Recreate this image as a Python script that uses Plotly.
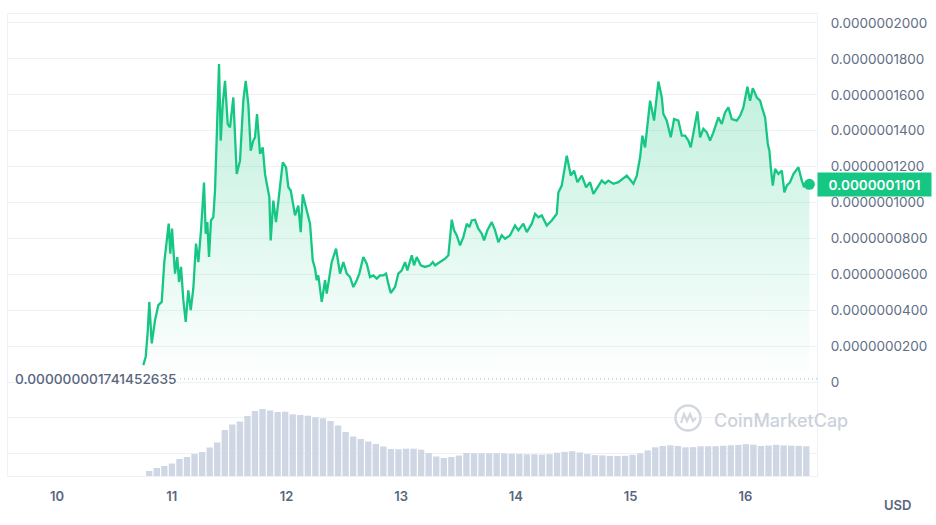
import numpy as np
import plotly.graph_objects as go

# ---- data ----
# hours since day "10" 00:00
price_hours = [
    18.06, 18.56, 18.98, 19.31, 19.82, 20.51, 21.20, 21.91, 22.45, 22.95,
    23.37, 23.71, 24.06, 24.69, 25.17, 25.53, 25.95, 26.43, 26.93, 27.47,
    27.98, 28.52, 29.08, 29.57, 30.13, 30.76, 31.11, 31.45, 31.80, 32.22,
    32.70, 33.06, 33.42, 33.90, 34.25, 34.67, 35.15, 35.72, 36.20, 36.89,
    37.60, 38.29, 38.98, 39.48, 40.03, 40.53, 41.07, 41.43, 41.85, 42.48,
    43.04, 43.52, 43.88, 44.42, 44.71, 45.26, 45.82, 46.51, 47.23, 47.92,
    48.40, 48.90, 49.80, 50.49, 50.99, 51.41, 52.25, 52.94, 53.50, 53.98,
    54.34, 54.67, 55.39, 56.08, 56.43, 57.12, 57.48, 58.38, 59.21, 59.91,
    60.62, 61.31, 62.00, 62.71, 63.25, 64.09, 64.80, 65.49, 66.18, 66.89,
    67.58, 68.27, 68.84, 69.32, 69.82, 70.72, 71.41, 72.13, 72.82, 73.30,
    74.22, 74.70, 75.26, 76.10, 77.00, 78.05, 78.61, 79.09, 80.14, 81.19,
    81.88, 82.59, 83.07, 83.63, 84.32, 85.01, 85.73, 86.27, 86.77, 87.46,
    88.15, 88.86, 89.35, 90.04, 90.96, 91.65, 92.34, 93.05, 93.74, 94.79,
    95.83, 96.52, 97.57, 98.28, 99.33, 100.02, 100.71, 101.42, 102.47, 103.51,
    104.56, 104.89, 105.60, 106.65, 107.49, 108.18, 108.87, 109.79, 110.69, 111.52,
    112.22, 113.05, 113.97, 114.66, 115.35, 116.40, 117.45, 119.20, 120.59, 121.30,
    121.99, 122.47, 123.03, 124.08, 124.91, 125.82, 126.53, 126.86, 127.57, 128.41,
    129.10, 130.00, 130.71, 131.40, 132.09, 132.59, 133.14, 133.98, 134.54, 135.23,
    135.94, 136.63, 137.32, 138.37, 139.08, 139.77, 140.46, 141.17, 142.22, 142.91,
    143.60, 144.44, 145.00, 145.57, 146.41, 147.10, 147.58, 148.14, 148.71, 149.04,
    149.33, 149.75, 150.23, 150.93, 151.64, 152.18, 152.68, 153.37, 154.06, 155.11,
    155.82, 156.30, 156.87, 157.41,
]
# price in units of 1e-9 USD
price_nano = [
    9.4, 14.1, 27.9, 44.6, 21.5, 34.4, 42.8, 44.6, 66.8, 77.1,
    88.2, 71.5, 85.4, 60.4, 69.6, 55.7, 64.1, 45.6, 33.5, 51.1,
    40.0, 52.1, 77.1, 66.8, 84.5, 111.1, 82.6, 89.1, 69.6, 90.0,
    91.8, 106.7, 143.7, 177.1, 134.5, 154.8, 167.8, 143.7, 141.8, 158.5,
    115.9, 123.3, 156.7, 167.8, 154.8, 128.9, 134.5, 136.3, 149.3, 127.1,
    130.7, 115.9, 110.6, 103.0, 78.9, 101.1, 89.1, 106.7, 122.4, 119.6,
    108.5, 106.7, 92.8, 98.3, 83.5, 104.5, 94.6, 88.2, 67.8, 63.2,
    56.7, 59.4, 44.6, 56.7, 49.3, 60.4, 66.8, 74.3, 60.4, 66.8,
    60.4, 58.5, 52.9, 56.7, 60.4, 69.6, 65.9, 58.5, 59.4, 57.6,
    59.4, 59.4, 60.4, 54.8, 49.6, 52.9, 60.4, 62.2, 66.8, 62.2,
    70.6, 65.0, 69.6, 65.0, 64.1, 65.0, 66.8, 65.0, 66.8, 68.7,
    70.6, 90.4, 84.5, 81.7, 76.1, 80.7, 88.2, 86.3, 90.0, 90.4,
    85.4, 82.6, 78.9, 84.5, 89.1, 84.5, 77.9, 81.7, 79.8, 81.7,
    87.2, 84.5, 88.2, 83.5, 88.2, 93.7, 91.8, 92.8, 87.2, 90.0,
    93.7, 105.6, 109.4, 126.1, 115.0, 117.8, 111.3, 115.0, 108.5, 111.3,
    104.8, 108.5, 112.2, 110.6, 112.2, 110.4, 111.3, 115.0, 110.4, 115.0,
    125.2, 137.2, 130.7, 156.7, 145.6, 167.4, 158.5, 149.3, 145.6, 136.3,
    146.5, 145.6, 137.2, 137.2, 134.5, 130.7, 138.2, 150.7, 136.3, 141.0,
    139.1, 134.5, 139.1, 147.4, 143.7, 150.2, 153.0, 146.5, 145.6, 148.3,
    153.0, 164.5, 156.7, 163.7, 158.5, 156.7, 152.1, 147.4, 132.6, 128.9,
    119.6, 109.4, 118.7, 115.9, 117.8, 105.7, 109.4, 111.3, 115.9, 119.6,
    112.2, 108.5, 111.3, 110.1,
]
# 24h volume (relative units), bars every 1.58 h starting at hour 19.3
volume = [
    5, 8, 10, 12.5, 17, 19, 22, 24, 28.5, 33.5,
    46, 51.5, 54.5, 60, 65, 67, 65.5, 64, 64.3, 61.7,
    61, 60.3, 58.7, 57.7, 55, 50.5, 44, 39.5, 37, 34.5,
    32, 29.5, 27, 26.7, 27.3, 27.3, 26.3, 23, 19.5, 18,
    19, 20.5, 23, 22.8, 22.7, 22.7, 22.7, 22.6, 22.3, 22,
    21.7, 21.7, 21.4, 21.8, 23.2, 24.1, 24.8, 23.5, 22, 20.9,
    20.6, 20.1, 20, 20.2, 21.2, 22.6, 25.6, 28.7, 30, 30.7,
    30, 28.7, 28.8, 29.7, 29.7, 29.8, 30.3, 30.7, 31, 31.8,
    31.3, 30, 30.5, 31.2, 30.6, 30.3, 30.1, 29.7,
]
vol_start_hour = 19.3
vol_step_hour = 1.58

day_labels = ["10", "11", "12", "13", "14", "15", "16"]
price_ticks = [0, 2e-8, 4e-8, 6e-8, 8e-8, 1e-7, 1.2e-7, 1.4e-7, 1.6e-7, 1.8e-7, 2e-7]
low_value = 1.741452635e-9
low_label = "0.000000001741452635"
last_label = "0.0000001101"

# ---- build ----
price = [p * 1e-9 for p in price_nano]
vol_x = vol_start_hour + vol_step_hour * np.arange(len(volume))

GREEN = "#16c784"
GRID = "#eff2f5"
TXT = "#616e85"
FONT = "Inter"

fig = go.Figure()
fig.add_trace(go.Bar(
    x=vol_x, y=volume, yaxis="y2",
    marker=dict(color="#cfd6e4", line=dict(width=0)),
    width=vol_step_hour * 0.84, hoverinfo="skip", showlegend=False,
))
fig.add_trace(go.Scatter(
    x=price_hours, y=price, mode="lines",
    line=dict(color=GREEN, width=2.3),
    fill="tozeroy",
    fillgradient=dict(type="vertical",
                      colorscale=[[0, "rgba(22,199,132,0.0)"], [1, "rgba(22,199,132,0.28)"]],
                      start=0, stop=1.75e-7),
    showlegend=False,
))
fig.add_trace(go.Scatter(
    x=[price_hours[-1]], y=[price[-1]], mode="markers",
    marker=dict(size=11, color=GREEN), showlegend=False,
))

tickvals = [-4e-8, -2e-8] + price_ticks
ticktext = ["", ""] + ["0" if v == 0 else f"{v:.10f}" for v in price_ticks]

fig.update_layout(
    width=936, height=525,
    margin=dict(l=8, r=119, t=14, b=49),
    paper_bgcolor="white", plot_bgcolor="white",
    font=dict(family=FONT, color=TXT),
    bargap=0.15,
    xaxis=dict(
        range=[-10.25, 159.0],
        tickvals=[24 * i for i in range(len(day_labels))],
        ticktext=day_labels,
        showgrid=False, zeroline=False,
        showline=True, linecolor=GRID, linewidth=1, mirror=True,
        ticks="", ticklabelstandoff=8,
        tickfont=dict(family=FONT, size=13, color="#58667e", weight=600),
    ),
    yaxis=dict(
        side="right",
        range=[-5.237e-8, 2.0501e-7],
        tickvals=tickvals, ticktext=ticktext,
        gridcolor=GRID, gridwidth=1, zeroline=False,
        showline=True, linecolor=GRID, linewidth=1, mirror=True,
        ticks="", ticklabelstandoff=10,
        tickfont=dict(family=FONT, size=13.5, color=TXT),
    ),
    yaxis2=dict(overlaying="y", range=[0, 462], visible=False),
)

# dotted low line
fig.add_shape(type="line", xref="paper", yref="y",
              x0=(180 - 8) / 809, x1=1, y0=low_value, y1=low_value,
              line=dict(color="#a6b0c3", width=1, dash="1px,3px"))

annotations = [
    dict(xref="paper", yref="y", x=0, y=low_value, xshift=5,
         xanchor="left", yanchor="middle", showarrow=False,
         text=low_label, font=dict(family=FONT, size=13.7, color="#58667e", weight=500)),
    dict(xref="paper", yref="y", x=1, y=price[-1], xanchor="left", yanchor="middle",
         showarrow=False, text=last_label, bgcolor=GREEN, width=105, height=15,
         borderpad=4, align="center",
         font=dict(family=FONT, size=13.5, color="white", weight=600)),
    dict(xref="paper", yref="paper", x=(897 - 8) / 809, y=(476 - 505) / 462,
         xanchor="center", yanchor="middle", showarrow=False, text="USD",
         font=dict(family=FONT, size=13, color="#58667e", weight=600)),
    dict(xref="paper", yref="paper", x=(712 - 8) / 809, y=(476 - 420) / 462,
         xanchor="left", yanchor="middle", showarrow=False, text="CoinMarketCap",
         font=dict(family=FONT, size=18, color="#ccd2db", weight=500)),
]
fig.update_layout(annotations=annotations)

# watermark logo circle
cx, cy, r = (688 - 8) / 809, (476 - 418) / 462, 12.5
fig.add_shape(type="circle", xref="paper", yref="paper",
              x0=cx - r / 809, x1=cx + r / 809, y0=cy - r / 462, y1=cy + r / 462,
              line=dict(color="#d3d8e0", width=2.5))
# little "M" wave inside the logo
pts = [(-7, -5), (-4, 4), (-1, -3), (2, 4), (5, -3), (8, 0)]
path = "M " + " L ".join(f"{cx + dx / 809:.5f},{cy + dy / 462:.5f}" for dx, dy in pts)
fig.add_shape(type="path", xref="paper", yref="paper", path=path,
              line=dict(color="#d3d8e0", width=2.2))

fig.write_html("out.html", config={"displayModeBar": False},
               post_script="document.body.style.margin='0';document.body.style.overflow='hidden';")
